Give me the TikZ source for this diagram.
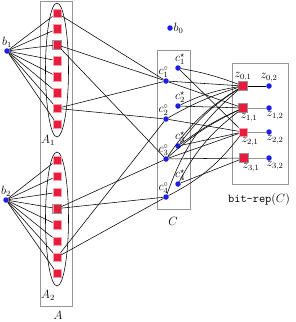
\documentclass[tikz,border=0pt]{standalone}
\usepackage{amsmath}
\usepackage{tikz}
\usetikzlibrary{positioning, calc}
\definecolor{myred}{RGB}{232,28,60}
\definecolor{myblue}{RGB}{30,30,235}
\definecolor{myframe}{RGB}{150,150,150}
\definecolor{myrim}{RGB}{250,160,170}
\tikzset{
  sq/.style={rectangle, fill=myred, draw=myrim, line width=0.4pt,
    minimum size=8.5pt, inner sep=0pt},
  hl/.style={draw=myframe, line width=0.9pt},
  dot/.style={circle, fill=myblue, minimum size=5.5pt, inner sep=0pt},
  frame/.style={draw=myframe, line width=0.8pt},
  edge/.style={line width=0.55pt, color=black},
  grayedge/.style={line width=0.8pt, color=myframe},
  lbl/.style={font=\large, inner sep=0.5pt}
}

\begin{document}
\begin{tikzpicture}[x=1pt, y=-1pt]
  \useasboundingbox (0,0) rectangle (296,322);

  % Set A with its two groups
  \draw[frame] (40,1) rectangle (72,306);
  \node[lbl] (labA) at (58,315) {$A$};
  \draw[edge] (57,70) ellipse [x radius=11.5, y radius=67];
  \draw[edge] (57,219) ellipse [x radius=11.5, y radius=67];
  \node[lbl] (labA1) at (48,140) {$A_1$};
  \node[lbl] (labA2) at (48,295) {$A_2$};

  \foreach \i in {1,...,8} {
    \node[sq] (pa\i) at (57,{13+15.9*(\i-1)}) {};
    \node[sq] (pb\i) at (57,{160+16.2*(\i-1)}) {};
  }
  \draw[hl] (pa3.south west) rectangle (pa3.north east);
  \draw[hl] (pb4.south west) rectangle (pb4.north east);

  % Vertices b
  \node[dot, label={[lbl]above:$b_1$}] (b1) at (7,51) {};
  \node[dot, label={[lbl]above:$b_2$}] (b2) at (6,200) {};
  \node[dot, label={[lbl]right:$b_0$}] (b0) at (170,28) {};
  \foreach \i in {1,...,8} {
    \draw[edge] (b1) -- (pa\i);
    \draw[edge] (b2) -- (pb\i);
  }

  % Set C
  \draw[frame] (157,50) rectangle (190,209);
  \node[lbl] (labC) at (173,221) {$C$};
  \foreach \i/\y in {1/81, 2/119, 3/159, 4/197} {
    \node[dot, label={[lbl, xshift=-2.5pt]above:$c^{\circ}_{\i}$}] (c\i o) at (166,\y) {};
    \node[dot, label={[lbl, xshift=2pt, yshift=-0.5pt]above:$c^{\star}_{\i}$}] (c\i s) at (178,\y-13) {};
  }

  % bit-rep(C)
  \draw[frame] (232,63) rectangle (288,184);
  \node[lbl] (labZ) at (259,199) {\texttt{bit-rep}$(C)$};
  \node[sq, hl, label={[lbl]above:$z_{0,1}$}] (z01) at (243,86) {};
  \node[dot, label={[lbl]above:$z_{0,2}$}] (z02) at (269,86) {};
  \node[sq, hl, label={[lbl, xshift=6pt]below:$z_{1,1}$}] (z11) at (243,108) {};
  \node[dot, label={[lbl, xshift=6pt]below:$z_{1,2}$}] (z12) at (269,108) {};
  \node[sq, label={[lbl, xshift=7pt]below:$z_{2,1}$}] (z21) at (243,132) {};
  \node[dot, label={[lbl, xshift=6pt]below:$z_{2,2}$}] (z22) at (269,132) {};
  \node[sq, hl, label={[lbl, xshift=7pt]below:$z_{3,1}$}] (z31) at (244,158) {};
  \node[dot, label={[lbl, xshift=6pt]below:$z_{3,2}$}] (z32) at (269,158) {};
  \draw[edge] (z01) -- (z02);
  \draw[grayedge] (z11) -- (z12);
  \draw[grayedge] (z21) -- (z22);
  \draw[grayedge] (z31) -- (z32);

  % A to C
  \draw[edge] (pa1) -- (c1o);
  \draw[edge] (pa3) -- (c1o);
  \draw[edge] (pa3) -- (c3o);
  \draw[edge] (pa7) -- (c1o);
  \draw[edge] (pa7) -- (c2o);
  \draw[edge] (pb4) -- (c3o);
  \draw[edge] (pb4) -- (c4o);
  \draw[edge] (pb7) -- (c2o);
  \draw[edge] (pb7) -- (c4o);

  % C to bit-rep(C)
  \draw[edge] (c1o) -- (z01);
  \draw[edge] (c1o) -- (z11);
  \draw[edge] (c1s) to[bend left=5] (z01);
  \draw[edge] (c1s) -- (z21);
  \draw[edge] (c2s) to[bend left=8] (z01);
  \draw[edge] (c2s) -- (z11);
  \draw[edge] (c2o) to[bend left=6] (z01);
  \draw[edge] (c2o) -- (z21);
  \draw[edge] (c3s) to[bend left=10] (z01);
  \draw[edge] (c3s) to[bend left=6] (z11);
  \draw[edge] (c3s) -- (z21);
  \draw[edge] (c3o) to[bend left=12] (z01);
  \draw[edge] (c3o) to[bend left=8] (z11);
  \draw[edge] (c3o) -- (z21);
  \draw[edge] (c3o) -- (z31);
  \draw[edge] (c4s) to[bend left=12] (z11);
  \draw[edge] (c4s) -- (z31);
  \draw[edge] (c4o) to[bend left=15] (z01);
  \draw[edge] (c4o) to[bend right=12] (z21);
\end{tikzpicture}
\end{document}
